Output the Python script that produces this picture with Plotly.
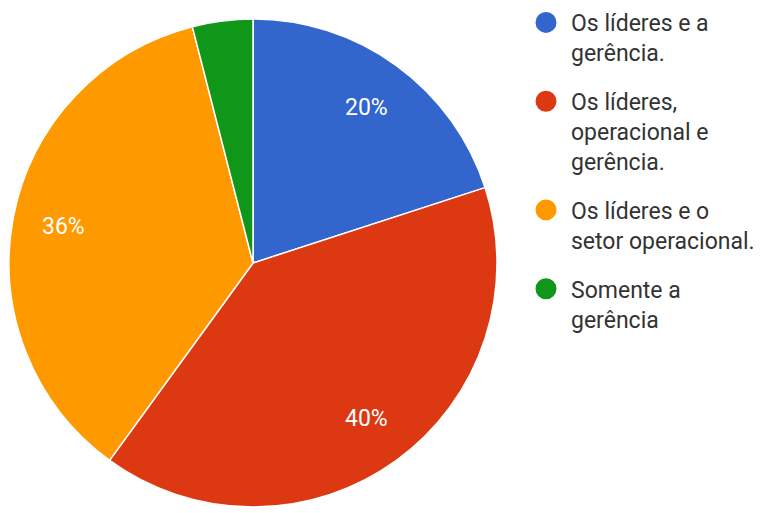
import math
import plotly.graph_objects as go

# Survey answers: who takes part in the process
categories = [
    "Os líderes e a<br>gerência.",
    "Os líderes,<br>operacional e<br>gerência.",
    "Os líderes e o<br>setor operacional.",
    "Somente a<br>gerência",
]
responses = [5, 10, 9, 1]
colors = ["#3366CC", "#DC3912", "#FF9900", "#109618"]
min_labelled_share = 0.05  # slices below this share stay unlabelled

W, H = 777, 513
cx, cy, r = 253, 263, 244
label_radius = 0.79  # fraction of the pie radius where slice labels sit

fig = go.Figure()
fig.add_trace(go.Pie(
    labels=categories,
    values=responses,
    sort=False,
    direction="clockwise",
    rotation=0,
    marker=dict(colors=colors, line=dict(color="white", width=1.5)),
    textinfo="none",
    hoverinfo="label+percent",
    showlegend=False,
    domain=dict(x=[(cx - r) / W, (cx + r) / W],
                y=[(H - cy - r) / H, (H - cy + r) / H]),
))

# percentage labels placed along each slice's bisector
total = sum(responses)
start = 0.0
for v in responses:
    share = v / total
    mid = (start + share / 2) * 2 * math.pi  # clockwise from 12 o'clock
    start += share
    if share < min_labelled_share:
        continue
    px = cx + label_radius * r * math.sin(mid)
    py = cy - label_radius * r * math.cos(mid)
    fig.add_annotation(
        x=px / W, y=1 - py / H, xref="paper", yref="paper",
        text=f"{share:.0%}", showarrow=False,
        xanchor="center", yanchor="middle",
        font=dict(family="Roboto", size=23, color="white"),
    )

# circle-marker legend entries, one group each so the item gaps can be set
for i, (lab, col) in enumerate(zip(categories, colors)):
    fig.add_trace(go.Scatter(
        x=[None], y=[None], mode="markers", name=lab,
        legendgroup=f"g{i}",
        marker=dict(symbol="circle", size=16, color=col,
                    line=dict(color=col, width=5)),
        hoverinfo="skip",
    ))

fig.update_layout(
    width=W, height=H,
    margin=dict(l=0, r=0, t=0, b=0),
    paper_bgcolor="white",
    plot_bgcolor="white",
    xaxis=dict(visible=False),
    yaxis=dict(visible=False),
    legend=dict(
        x=521 / W, y=1 - 1 / H, xanchor="left", yanchor="top",
        font=dict(family="Roboto", size=23, color="#333333"),
        itemwidth=40,
        valign="top",
        tracegroupgap=16,
        itemclick=False,
        bgcolor="rgba(0,0,0,0)",
    ),
)

fig.write_html("out.html")
